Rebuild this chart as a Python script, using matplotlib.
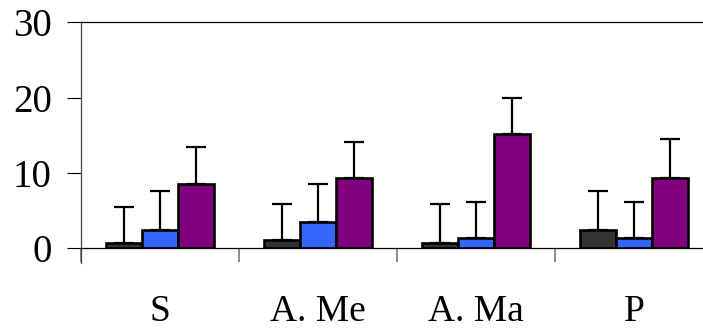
import matplotlib
matplotlib.use("Agg")
import matplotlib.pyplot as plt
import numpy as np

# Category labels and the three series (mean and upper error)
categories = ["S", "A. Me", "A. Ma", "P"]
dark_vals = [0.7, 1.1, 0.7, 2.4]
dark_err = [4.8, 4.8, 5.2, 5.2]
blue_vals = [2.4, 3.45, 1.4, 1.4]
blue_err = [5.2, 5.15, 4.8, 4.8]
purple_vals = [8.6, 9.3, 15.2, 9.3]
purple_err = [4.9, 4.8, 4.8, 5.2]

series = [
    (dark_vals, dark_err, "#333333"),
    (blue_vals, blue_err, "#3366FF"),
    (purple_vals, purple_err, "#800080"),
]

plt.rcParams["font.family"] = ["Liberation Serif", "DejaVu Serif"]

fig = plt.figure(figsize=(7.03, 3.31), dpi=100)
# axes run slightly past the right edge of the figure
ax = fig.add_axes([81 / 703, 0.2498, 632 / 703, 0.6828])

x = np.arange(len(categories))
width = 0.228
for i, (vals, errs, color) in enumerate(series):
    pos = x + (i - 1) * width
    ax.bar(pos, vals, width, color=color, edgecolor="black", linewidth=1.9, zorder=3)
    ax.errorbar(pos, vals, yerr=[np.zeros(len(vals)), errs], fmt="none",
                ecolor="black", elinewidth=1.6, capsize=7.2, capthick=1.6, zorder=2)

ax.set_xlim(-0.5, len(categories) - 0.5)
ax.set_ylim(0, 30)
ax.set_yticks([0, 10, 20, 30])
ax.tick_params(axis="y", direction="out", length=10, width=0.8, pad=11, labelsize=28)

ax.set_xticks(x)
ax.set_xticklabels(categories)
ax.tick_params(axis="x", which="major", length=0, pad=33, labelsize=27)
ax.set_xticks(np.arange(len(categories) + 1) - 0.5, minor=True)
ax.tick_params(axis="x", which="minor", direction="out", length=10, width=1.2, color="#777777")

ax.spines["right"].set_visible(False)
ax.spines["top"].set_linewidth(0.9)
ax.spines["bottom"].set_linewidth(0.9)
ax.spines["left"].set_linewidth(0.9)
ax.spines["left"].set_color("#444444")
ax.spines["left"].set_bounds(-1.9, 30)

fig.savefig("out.png", dpi=100)
